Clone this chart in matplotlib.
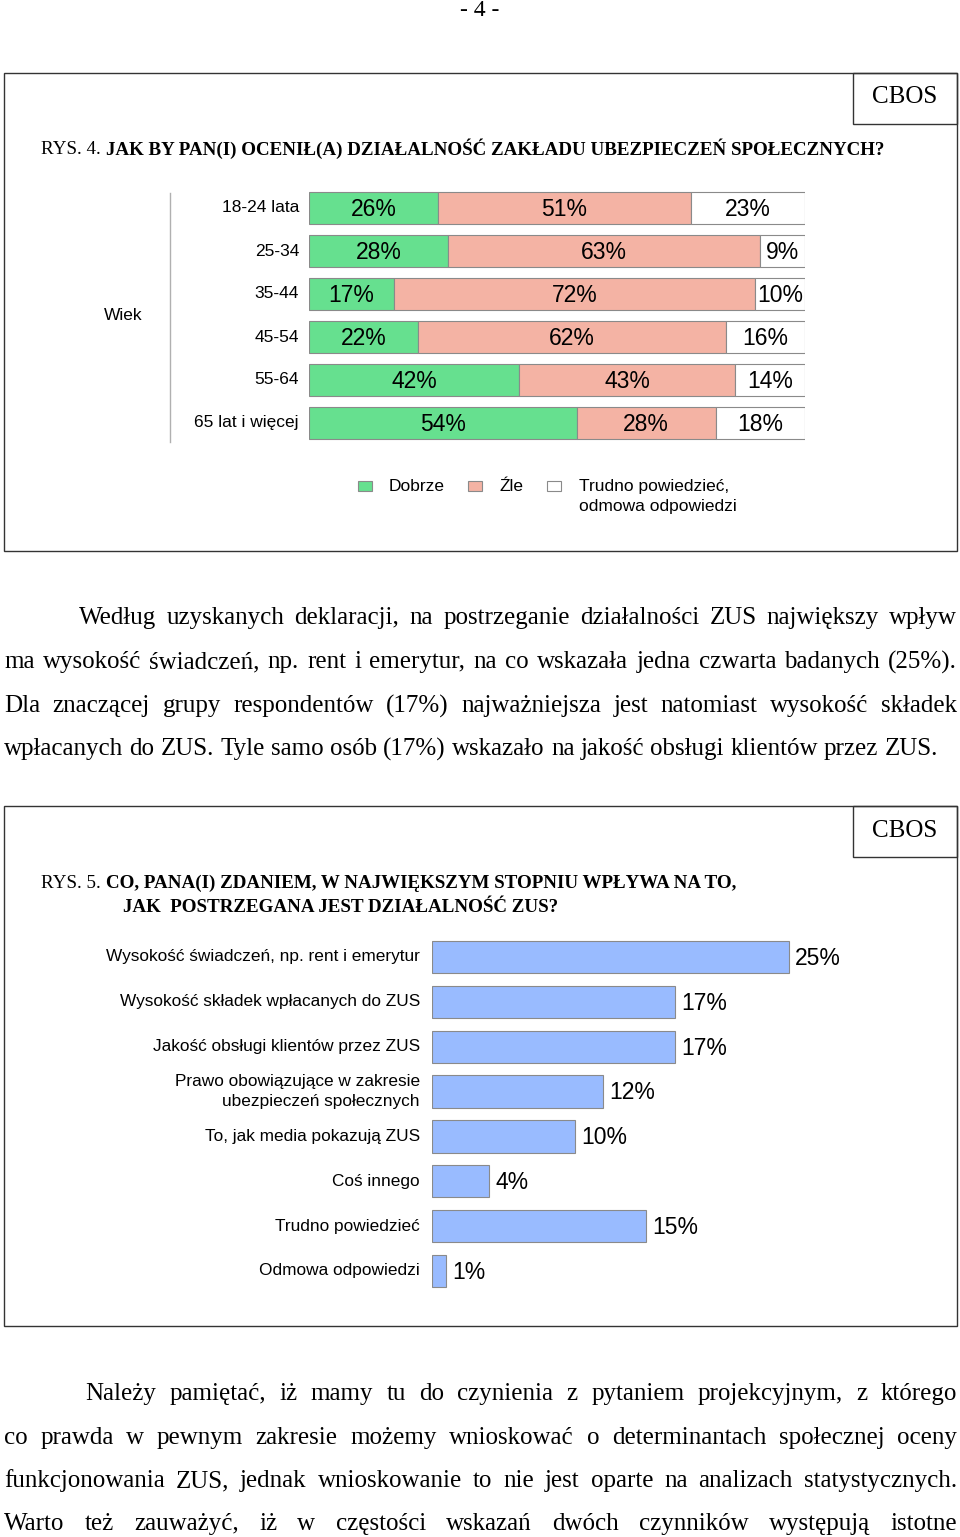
import matplotlib
matplotlib.use("Agg")
import matplotlib.pyplot as plt
from matplotlib.patches import Rectangle
import numpy as np

# figure in pixels
W, H = 960, 1537
SERIF = "Liberation Serif"
SANS = "Liberation Sans"

# RYS. 4 data
age_groups = ["18-24 lata", "25-34", "35-44", "45-54", "55-64", "65 lat i więcej"]
dobrze = [26, 28, 17, 22, 42, 54]
zle = [51, 63, 72, 62, 43, 28]
trudno = [23, 9, 10, 16, 14, 18]
legend_labels = ["Dobrze", "Źle", "Trudno powiedzieć,\nodmowa odpowiedzi"]

# RYS. 5 data
factors = ["Wysokość świadczeń, np. rent i emerytur",
           "Wysokość składek wpłacanych do ZUS",
           "Jakość obsługi klientów przez ZUS",
           "Prawo obowiązujące w zakresie\nubezpieczeń społecznych",
           "To, jak media pokazują ZUS",
           "Coś innego",
           "Trudno powiedzieć",
           "Odmowa odpowiedzi"]
factor_pct = [25, 17, 17, 12, 10, 4, 15, 1]

para1 = [
    "Według uzyskanych deklaracji, na postrzeganie działalności ZUS największy wpływ",
    "ma wysokość świadczeń, np. rent i emerytur, na co wskazała jedna czwarta badanych (25%).",
    "Dla znaczącej grupy respondentów (17%) najważniejsza jest natomiast wysokość składek",
    "wpłacanych do ZUS. Tyle samo osób (17%) wskazało na jakość obsługi klientów przez ZUS.",
]
para2 = [
    "Należy pamiętać, iż mamy tu do czynienia z pytaniem projekcyjnym, z którego",
    "co prawda w pewnym zakresie możemy wnioskować o determinantach społecznej oceny",
    "funkcjonowania ZUS, jednak wnioskowanie to nie jest oparte na analizach statystycznych.",
    "Warto też zauważyć, iż w częstości wskazań dwóch czynników występują istotne",
]

GREEN = "#66e08f"
SALMON = "#f4b3a4"
BLUE = "#99bbff"
EDGE = "#8a8a8a"

fig = plt.figure(figsize=(W / 100, H / 100), dpi=100)
renderer = fig.canvas.get_renderer()


def fx(x):
    return x / W


def fy(y):
    return 1 - y / H


def add_ax(x0, y0, x1, y1):
    ax = fig.add_axes([fx(x0), fy(y1), (x1 - x0) / W, (y1 - y0) / H])
    ax.set_axis_off()
    return ax


def txt(x, y, s, **kw):
    return fig.text(fx(x), fy(y), s, **kw)


def width_px(t):
    return t.get_window_extent(renderer).width


def measure(s, **kw):
    t = txt(0, 500, s, **kw)
    w = width_px(t)
    t.remove()
    return w


def box(x0, y0, x1, y1, lw=1.0, color="#333333"):
    fig.patches.append(Rectangle((fx(x0), fy(y1)), (x1 - x0) / W, (y1 - y0) / H,
                                 transform=fig.transFigure, fill=False,
                                 lw=lw, edgecolor=color))


def justified(line, y, x0, x1, size, last=False):
    words = line.split(" ")
    widths = [measure(w, family=SERIF, fontsize=size) for w in words]
    space = measure("a b", family=SERIF, fontsize=size) - measure("ab", family=SERIF, fontsize=size)
    if last or len(words) == 1:
        gap = space
    else:
        gap = (x1 - x0 - sum(widths)) / (len(words) - 1)
    x = x0
    for w, wd in zip(words, widths):
        txt(x, y, w, family=SERIF, fontsize=size, va="center")
        x += wd + gap


# page number
txt(480, 10, "- 4 -", family=SERIF, fontsize=17, ha="center", va="center")

# ---------- RYS. 4 ----------
box(4, 73, 957, 551)
box(853, 73, 957, 124)
txt(905, 97, "CBOS", family=SERIF, fontsize=18, ha="center", va="center")
w0 = measure("RYS. 4. ", family=SERIF, fontsize=13.7)
txt(41, 149, "RYS. 4. ", family=SERIF, fontsize=13.7, va="center")
txt(41 + w0, 149,
    "JAK BY PAN(I) OCENIŁ(A) DZIAŁALNOŚĆ ZAKŁADU UBEZPIECZEŃ SPOŁECZNYCH?",
    family=SERIF, fontsize=13.7, weight="bold", va="center")

ax1 = add_ax(309, 186.5, 805, 444.5)
ax1.set_xlim(0, 100)
ax1.set_ylim(len(age_groups) - 0.5, -0.5)
rows = np.arange(len(age_groups))
tot = np.array(dobrze) + np.array(zle) + np.array(trudno)
d = np.array(dobrze) / tot * 100
z = np.array(zle) / tot * 100
tr = np.array(trudno) / tot * 100
segs = [(d, np.zeros(len(rows)), dobrze, GREEN),
        (z, d, zle, SALMON),
        (tr, d + z, trudno, "white")]
for wv, left, vals, col in segs:
    ax1.barh(rows, wv, left=left, height=0.74, color=col, edgecolor=EDGE, lw=0.8)
    for r, w_, l_, v in zip(rows, wv, left, vals):
        ax1.text(l_ + w_ / 2, r + 0.03, f"{v}%", ha="center", va="center",
                 family=SANS, fontsize=16.5)
for r, lab in zip(rows, age_groups):
    txt(299, 208 + 43 * r, lab, family=SANS, fontsize=12.5, ha="right", va="center")
txt(123, 315, "Wiek", family=SANS, fontsize=12.5, ha="center", va="center")
fig.add_artist(plt.Line2D([fx(170), fx(170)], [fy(193), fy(442)],
                          transform=fig.transFigure, color="#b0b0b0", lw=1))

# legend
for (xs, xt, col, lab) in [(358, 389, GREEN, legend_labels[0]),
                           (468, 499, SALMON, legend_labels[1]),
                           (547, 579, "white", legend_labels[2])]:
    fig.patches.append(Rectangle((fx(xs), fy(491)), 14 / W, 10 / H,
                                 transform=fig.transFigure, facecolor=col,
                                 edgecolor=EDGE, lw=0.8))
    txt(xt, 479, lab, family=SANS, fontsize=12.5, va="top", linespacing=1.42)

# ---------- paragraph 1 ----------
ys1 = [618, 662, 706, 749]
for i, (line, y) in enumerate(zip(para1, ys1)):
    justified(line, y, 79 if i == 0 else 4, 957, 18, last=(i == len(para1) - 1))

# ---------- RYS. 5 ----------
box(4, 806, 957, 1326)
box(853, 806, 957, 857)
txt(905, 831, "CBOS", family=SERIF, fontsize=18, ha="center", va="center")
w0 = measure("RYS. 5. ", family=SERIF, fontsize=13.7)
txt(41, 883, "RYS. 5. ", family=SERIF, fontsize=13.7, va="center")
txt(41 + w0, 883,
    "CO, PANA(I) ZDANIEM, W NAJWIĘKSZYM STOPNIU WPŁYWA NA TO,",
    family=SERIF, fontsize=13.7, weight="bold", va="center")
txt(123, 907, "JAK  POSTRZEGANA JEST DZIAŁALNOŚĆ ZUS?",
    family=SERIF, fontsize=13.7, weight="bold", va="center")

step = (1271 - 957) / 7
ax2 = add_ax(432, 957 - step / 2, 432 + 14.28 * 35, 1271 + step / 2)
ax2.set_xlim(0, 35)
ax2.set_ylim(len(factors) - 0.5, -0.5)
rows2 = np.arange(len(factors))
ax2.barh(rows2, factor_pct, height=0.72, color=BLUE, edgecolor=EDGE, lw=0.8)
for r, v in zip(rows2, factor_pct):
    ax2.text(v + 0.42, r + 0.03, f"{v}%", ha="left", va="center", family=SANS, fontsize=16.5)
for r, lab in zip(rows2, factors):
    txt(420, 957 + step * r, lab, family=SANS, fontsize=12.4, ha="right",
        va="center", multialignment="right", linespacing=1.4)

# ---------- paragraph 2 ----------
ys2 = [1394, 1438, 1481, 1524]
for i, (line, y) in enumerate(zip(para2, ys2)):
    justified(line, y, 85 if i == 0 else 4, 957, 18)

fig.savefig("out.png", dpi=100)
